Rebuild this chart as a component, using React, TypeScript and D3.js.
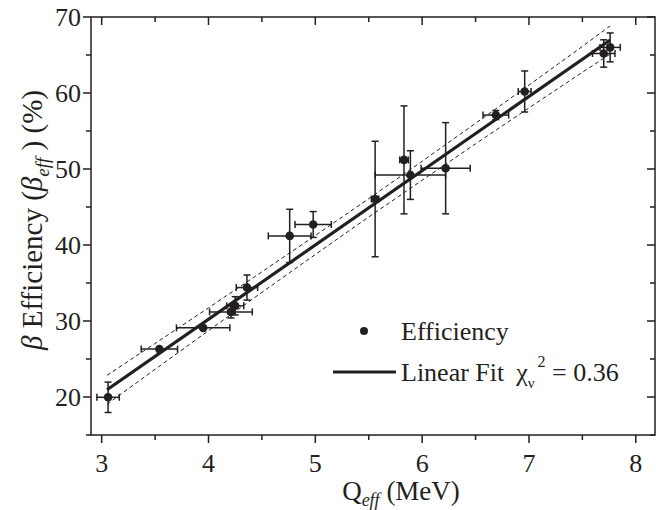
import React, { useRef, useEffect } from "react";
import * as d3 from "d3";

// measured points (Q_eff in MeV, efficiency in %)
const qEff = [3.06, 3.54, 3.95, 4.21, 4.25, 4.36, 4.76, 4.98, 5.56, 5.83, 5.89, 6.22, 6.69, 6.96, 7.7, 7.76];
const qErr = [0.105, 0.17, 0.25, 0.2, 0.08, 0.1, 0.2, 0.17, 0.035, 0.04, 0.33, 0.23, 0.12, 0.06, 0.105, 0.095];
const effVal = [19.96, 26.3, 29.1, 31.2, 32.0, 34.4, 41.2, 42.7, 46.05, 51.2, 49.2, 50.1, 57.1, 60.2, 65.2, 66.0];
const effErr = [2.0, 0, 0, 0.8, 1.2, 1.65, 3.5, 1.7, 7.6, 7.1, 3.2, 6.0, 0.6, 2.7, 1.8, 1.9];

// linear fit end points
const fitX = [3.05, 7.76];
const fitY = [20.95, 66.97];

// confidence band
const bandX = [3.05, 3.5, 4.0, 4.5, 5.0, 5.5, 6.0, 6.5, 7.0, 7.5, 7.76];
const bandUpper = [22.85, 27.05, 31.73, 36.47, 41.25, 46.09, 51.02, 56.01, 61.04, 66.13, 68.82];
const bandLower = [19.05, 23.65, 28.73, 33.77, 38.75, 43.69, 48.52, 53.31, 58.04, 62.73, 65.12];

const xMajor = [3, 4, 5, 6, 7, 8];
const xMinor = [3.5, 4.5, 5.5, 6.5, 7.5];
const yMajor = [20, 30, 40, 50, 60, 70];
const yMinor = [15, 25, 35, 45, 55, 65];

const W = 656;
const H = 510;
const FONT = "'Liberation Serif', 'Times New Roman', serif";

const App = () => {
  const ref = useRef<SVGSVGElement>(null);

  useEffect(() => {
    const svg = d3.select(ref.current);
    svg.selectAll("*").remove();

    const left = 91, right = 655, top = 17, bottom = 435;
    const x = d3.scaleLinear().domain([2.9, 8.18]).range([left, right]);
    const y = d3.scaleLinear().domain([15, 70]).range([bottom, top]);

    const ink = "#231f20";

    // frame
    svg.append("rect")
      .attr("x", left).attr("y", top)
      .attr("width", right - left).attr("height", bottom - top)
      .attr("fill", "none").attr("stroke", ink).attr("stroke-width", 1.5);

    const ticks = svg.append("g").attr("stroke", ink).attr("stroke-width", 1.5);
    const tick = (x1: number, y1: number, x2: number, y2: number) =>
      ticks.append("line").attr("x1", x1).attr("y1", y1).attr("x2", x2).attr("y2", y2);

    xMajor.forEach((v) => {
      tick(x(v), bottom, x(v), bottom + 8);
      tick(x(v), top, x(v), top + 8);
    });
    xMinor.forEach((v) => {
      tick(x(v), bottom, x(v), bottom + 5);
      tick(x(v), top, x(v), top + 5);
    });
    yMajor.forEach((v) => {
      tick(left - 8, y(v), left, y(v));
      tick(right - 8, y(v), right, y(v));
    });
    yMinor.forEach((v) => {
      tick(left - 5, y(v), left, y(v));
      tick(right - 5, y(v), right, y(v));
    });

    // tick labels
    svg.append("g").selectAll("text").data(xMajor).enter().append("text")
      .attr("x", (d) => x(d)).attr("y", bottom + 37)
      .attr("text-anchor", "middle")
      .attr("font-family", FONT).attr("font-size", 26).attr("fill", ink)
      .text((d) => d);
    svg.append("g").selectAll("text").data(yMajor).enter().append("text")
      .attr("x", left - 10).attr("y", (d) => y(d) + 9)
      .attr("text-anchor", "end")
      .attr("font-family", FONT).attr("font-size", 26).attr("fill", ink)
      .text((d) => d);

    // x title
    const xt = svg.append("text")
      .attr("x", 401).attr("y", 500)
      .attr("text-anchor", "middle")
      .attr("font-family", FONT).attr("font-size", 27).attr("fill", ink);
    xt.append("tspan").text("Q");
    xt.append("tspan").attr("font-style", "italic").attr("font-size", 18).attr("dy", 6).text("eff");
    xt.append("tspan").attr("dy", -6).text(" (MeV)");

    // y title
    const yt = svg.append("text")
      .attr("transform", "translate(42,220) rotate(-90)")
      .attr("text-anchor", "middle")
      .attr("font-family", FONT).attr("font-size", 29).attr("fill", ink);
    yt.append("tspan").attr("font-style", "italic").text("β");
    yt.append("tspan").text(" Efficiency (");
    yt.append("tspan").attr("font-style", "italic").text("β");
    yt.append("tspan").attr("font-style", "italic").attr("font-size", 19).attr("dy", 7).text("eff");
    yt.append("tspan").attr("dy", -7).text(" ) (%)");

    // confidence band
    const band = d3.line<number>().x((d, i) => x(bandX[i])).y((d) => y(d));
    [bandUpper, bandLower].forEach((b) => {
      svg.append("path").attr("d", band(b))
        .attr("fill", "none").attr("stroke", ink)
        .attr("stroke-width", 1).attr("stroke-dasharray", "4,3");
    });

    // fit line
    svg.append("line")
      .attr("x1", x(fitX[0])).attr("y1", y(fitY[0]))
      .attr("x2", x(fitX[1])).attr("y2", y(fitY[1]))
      .attr("stroke", ink).attr("stroke-width", 3.2);

    // error bars
    const eb = svg.append("g").attr("stroke", ink).attr("stroke-width", 1.5);
    const cap = 3.5;
    qEff.forEach((q, i) => {
      const cx = x(q), cy = y(effVal[i]);
      if (qErr[i] > 0) {
        const x0 = x(q - qErr[i]), x1 = x(q + qErr[i]);
        eb.append("line").attr("x1", x0).attr("x2", x1).attr("y1", cy).attr("y2", cy);
        eb.append("line").attr("x1", x0).attr("x2", x0).attr("y1", cy - cap).attr("y2", cy + cap);
        eb.append("line").attr("x1", x1).attr("x2", x1).attr("y1", cy - cap).attr("y2", cy + cap);
      }
      if (effErr[i] > 0) {
        const y0 = y(effVal[i] - effErr[i]), y1 = y(effVal[i] + effErr[i]);
        eb.append("line").attr("x1", cx).attr("x2", cx).attr("y1", y0).attr("y2", y1);
        eb.append("line").attr("x1", cx - cap).attr("x2", cx + cap).attr("y1", y0).attr("y2", y0);
        eb.append("line").attr("x1", cx - cap).attr("x2", cx + cap).attr("y1", y1).attr("y2", y1);
      }
    });

    // markers
    svg.append("g").selectAll("circle").data(qEff).enter().append("circle")
      .attr("cx", (d) => x(d)).attr("cy", (d, i) => y(effVal[i]))
      .attr("r", 4.3).attr("fill", ink);

    // legend
    svg.append("circle").attr("cx", 364).attr("cy", 331).attr("r", 4).attr("fill", ink);
    svg.append("text").attr("x", 401).attr("y", 340)
      .attr("font-family", FONT).attr("font-size", 26).attr("fill", ink).text("Efficiency");
    svg.append("line").attr("x1", 333).attr("x2", 396).attr("y1", 372).attr("y2", 372)
      .attr("stroke", ink).attr("stroke-width", 3);
    const lt = svg.append("text").attr("x", 401).attr("y", 381)
      .attr("font-family", FONT).attr("font-size", 26).attr("fill", ink);
    lt.append("tspan").text("Linear Fit");
    lt.append("tspan").attr("dx", 12).text("χ");
    lt.append("tspan").attr("font-size", 15).attr("dy", 7).text("ν");
    lt.append("tspan").attr("font-size", 16).attr("dy", -21).attr("dx", 3).text("2");
    lt.append("tspan").attr("dy", 14).text(" = 0.36");
  }, []);

  return (
    <div>
      <svg ref={ref} width={W} height={H}
        style={{ position: "absolute", left: 0, top: 0, background: "#fff" }} />
    </div>
  );
};

export default App;
